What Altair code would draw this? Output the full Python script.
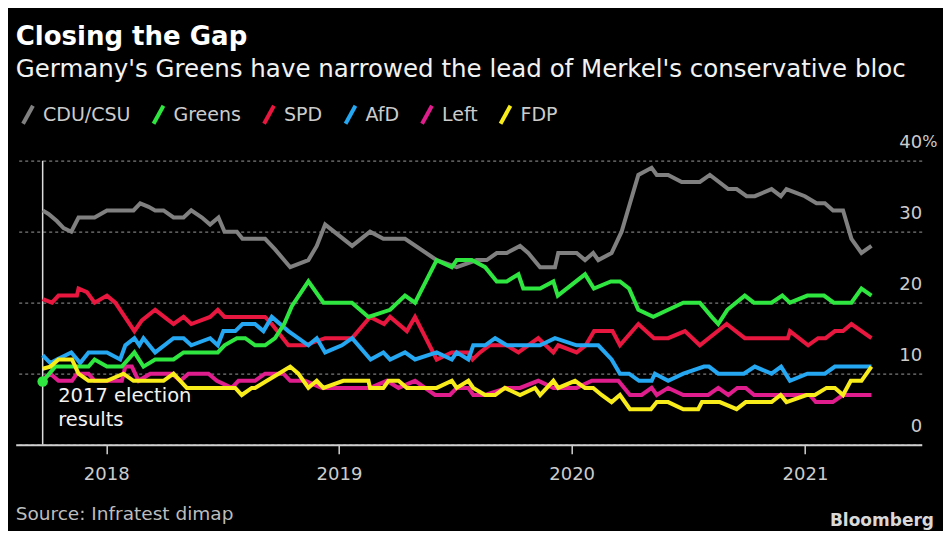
import altair as alt
import pandas as pd

# ---------------- data ----------------
parties = ["CDU/CSU", "Greens", "SPD", "AfD", "Left", "FDP"]
party_colors = ["#808080", "#2fe53f", "#e8173f", "#25a7f1", "#e01d8c", "#f8ec1b"]
draw_order = ["CDU/CSU", "SPD", "Left", "AfD", "Greens", "FDP"]

title_text = "Closing the Gap"
subtitle_text = "Germany's Greens have narrowed the lead of Merkel's conservative bloc"
source_text = "Source: Infratest dimap"
brand_text = "Bloomberg"
note_text = "2017 election\nresults"
note_level = 6
election_t = 2017.727
greens_election = 8.9
y_ticks = [0, 10, 20, 30, 40]

# poll dates as decimal years, shares in %
cdu_t = [2017.727, 2017.752, 2017.788, 2017.817, 2017.850, 2017.881, 2017.950, 2018.003,
         2018.117, 2018.146, 2018.182, 2018.210, 2018.246, 2018.289, 2018.332, 2018.365,
         2018.411, 2018.446, 2018.482, 2018.508, 2018.561, 2018.585, 2018.682, 2018.725,
         2018.790, 2018.868, 2018.904, 2018.940, 2019.056, 2019.133, 2019.190, 2019.283,
         2019.419, 2019.505, 2019.591, 2019.634, 2019.677, 2019.720, 2019.777, 2019.812,
         2019.863, 2019.927, 2019.941, 2020.020, 2020.056, 2020.091, 2020.113, 2020.170,
         2020.213, 2020.249, 2020.285, 2020.342, 2020.364, 2020.413, 2020.471, 2020.549,
         2020.592, 2020.671, 2020.707, 2020.750, 2020.785, 2020.857, 2020.897, 2020.921,
         2020.960, 2021.000, 2021.050, 2021.086, 2021.121, 2021.164, 2021.200, 2021.243,
         2021.286]
cdu_v = [33, 32.5, 31.5, 30.5, 30, 32, 32, 33,
         33, 34, 33.5, 33, 33, 32, 32, 33,
         32, 31, 32, 30, 30, 29, 29, 27.5,
         25, 26, 28, 31, 28, 30, 29, 29,
         26, 25, 26, 26, 27, 27, 28, 27,
         25, 25, 27, 27, 26, 27, 26, 27,
         30, 34, 38, 39, 38, 38, 37, 37,
         38, 36, 36, 35, 35, 36, 35, 36,
         35.5, 35, 34, 34, 33, 33, 29, 27,
         28]

greens_t = [2017.727, 2017.781, 2017.924, 2017.950, 2018.003, 2018.067, 2018.121, 2018.160,
            2018.210, 2018.289, 2018.332, 2018.479, 2018.508, 2018.561, 2018.597, 2018.639,
            2018.682, 2018.725, 2018.764, 2018.797, 2018.868, 2018.933, 2019.055, 2019.126,
            2019.219, 2019.283, 2019.326, 2019.419, 2019.484, 2019.505, 2019.570, 2019.627,
            2019.677, 2019.720, 2019.770, 2019.791, 2019.863, 2019.920, 2019.939, 2020.056,
            2020.094, 2020.167, 2020.206, 2020.245, 2020.285, 2020.349, 2020.413, 2020.478,
            2020.549, 2020.600, 2020.628, 2020.667, 2020.742, 2020.781, 2020.857, 2020.903,
            2020.936, 2021.011, 2021.082, 2021.124, 2021.200, 2021.243, 2021.286]
greens_v = [8.9, 11, 11, 12, 11, 11, 13, 11,
            12, 12, 13, 13, 14, 15, 15, 14,
            14, 15, 17, 19.5, 23, 20, 20, 18,
            19, 21, 20, 26, 25, 26, 26, 25,
            23, 23, 24, 22, 22, 23, 21, 24,
            22, 23, 23, 22, 19, 18, 19, 20,
            20, 18, 17, 19, 21, 20, 20, 21,
            20, 21, 21, 20, 20, 22, 21]

spd_t = [2017.727, 2017.767, 2017.795, 2017.874, 2017.881, 2017.917, 2017.950, 2018.003,
         2018.039, 2018.121, 2018.153, 2018.210, 2018.289, 2018.332, 2018.365, 2018.446,
         2018.479, 2018.508, 2018.682, 2018.711, 2018.782, 2018.854, 2018.940, 2019.055,
         2019.133, 2019.193, 2019.219, 2019.291, 2019.326, 2019.419, 2019.484, 2019.552,
         2019.573, 2019.605, 2019.645, 2019.720, 2019.770, 2019.855, 2019.920, 2019.941,
         2020.020, 2020.059, 2020.095, 2020.174, 2020.206, 2020.285, 2020.352, 2020.413,
         2020.485, 2020.549, 2020.664, 2020.742, 2020.927, 2020.936, 2021.014, 2021.057,
         2021.089, 2021.129, 2021.164, 2021.200, 2021.286]
spd_v = [20.5, 20, 21, 21, 22, 21.5, 20, 21,
         20, 16, 17.5, 19, 17, 18, 17, 18,
         19, 18, 18, 17, 14, 14, 15, 15,
         18, 17, 18, 16, 18, 12, 13, 13,
         12, 13, 14, 14, 13, 15, 13, 14,
         13, 14, 16, 16, 14, 17, 15, 15,
         16, 14, 17, 15, 15, 16, 14, 15,
         15, 16, 16, 17, 15]

afd_t = [2017.727, 2017.760, 2017.788, 2017.850, 2017.888, 2017.924, 2018.003, 2018.060,
         2018.082, 2018.121, 2018.142, 2018.160, 2018.210, 2018.289, 2018.332, 2018.365,
         2018.446, 2018.479, 2018.503, 2018.554, 2018.585, 2018.639, 2018.675, 2018.711,
         2018.782, 2018.868, 2018.904, 2018.940, 2019.012, 2019.056, 2019.135, 2019.190,
         2019.219, 2019.283, 2019.326, 2019.419, 2019.484, 2019.505, 2019.555, 2019.576,
         2019.627, 2019.670, 2019.720, 2019.863, 2019.927, 2020.020, 2020.113, 2020.170,
         2020.206, 2020.245, 2020.288, 2020.342, 2020.356, 2020.413, 2020.478, 2020.567,
         2020.588, 2020.628, 2020.738, 2020.785, 2020.857, 2020.898, 2020.936, 2021.011,
         2021.086, 2021.129, 2021.286]
afd_v = [12.6, 11.5, 12, 13, 11.5, 13, 13, 12,
         14, 15, 14, 15, 13, 15, 15, 14,
         15, 14, 16, 16, 17, 17, 16, 18,
         16, 14, 15, 13, 14, 15, 12, 13,
         12, 13, 12, 13, 12, 13, 12, 14,
         14, 15, 14, 14, 15, 14, 14, 12,
         10, 10, 9, 9, 10, 9, 10, 11,
         11, 10, 10, 11, 10, 11, 9, 10,
         10, 11, 11]

left_t = [2017.727, 2017.760, 2017.795, 2017.853, 2017.874, 2017.924, 2017.950, 2018.067,
          2018.082, 2018.110, 2018.139, 2018.189, 2018.282, 2018.318, 2018.353, 2018.439,
          2018.475, 2018.539, 2018.568, 2018.639, 2018.682, 2018.761, 2018.790, 2018.854,
          2018.926, 2019.133, 2019.205, 2019.255, 2019.326, 2019.412, 2019.476, 2019.505,
          2019.555, 2019.576, 2019.627, 2019.720, 2019.777, 2019.855, 2019.920, 2020.020,
          2020.085, 2020.199, 2020.249, 2020.299, 2020.342, 2020.364, 2020.413, 2020.478,
          2020.585, 2020.628, 2020.671, 2020.710, 2020.746, 2020.782, 2021.021, 2021.047,
          2021.120, 2021.163, 2021.286]
left_v = [9.2, 10, 9, 9, 10, 10, 9, 9,
          11, 11, 9, 10, 10, 9, 10, 10,
          9, 8, 9, 9, 10, 10, 9, 9,
          8, 8, 9, 8, 9, 7, 7, 8,
          8, 7, 7, 8, 8, 9, 8, 8,
          9, 9, 7, 7, 8, 7, 8, 7,
          7, 8, 7, 8, 8, 7, 7, 6,
          6, 7, 7]

fdp_t = [2017.727, 2017.760, 2017.795, 2017.853, 2017.881, 2017.924, 2018.003, 2018.074,
         2018.117, 2018.246, 2018.289, 2018.346, 2018.554, 2018.582, 2018.625, 2018.639,
         2018.690, 2018.740, 2018.790, 2018.825, 2018.868, 2018.904, 2018.933, 2019.018,
         2019.126, 2019.133, 2019.190, 2019.212, 2019.255, 2019.291, 2019.419, 2019.484,
         2019.505, 2019.555, 2019.576, 2019.627, 2019.670, 2019.712, 2019.777, 2019.841,
         2019.863, 2019.920, 2019.941, 2020.013, 2020.056, 2020.091, 2020.127, 2020.170,
         2020.206, 2020.249, 2020.339, 2020.364, 2020.413, 2020.478, 2020.542, 2020.558,
         2020.635, 2020.707, 2020.746, 2020.857, 2020.896, 2020.921, 2021.007, 2021.043,
         2021.093, 2021.129, 2021.164, 2021.197, 2021.243, 2021.286]
fdp_v = [10.7, 11, 12, 12, 10, 9, 9, 10,
         9, 9, 10, 8, 8, 7, 8, 8,
         9, 10, 11, 10, 8, 9, 8, 9,
         9, 8, 8, 9, 9, 8, 8, 9,
         8, 9, 8, 7, 7, 8, 7, 8,
         7, 9, 8, 9, 8, 8, 7, 6,
         7, 5, 5, 6, 6, 5, 5, 6,
         6, 5, 6, 6, 7, 6, 7, 7,
         8, 8, 7, 9, 9, 11]

series = {
    "CDU/CSU": (cdu_t, cdu_v),
    "Greens": (greens_t, greens_v),
    "SPD": (spd_t, spd_v),
    "AfD": (afd_t, afd_v),
    "Left": (left_t, left_v),
    "FDP": (fdp_t, fdp_v),
}


def to_date(t):
    return pd.Timestamp("2018-01-01") + pd.to_timedelta((t - 2018) * 365.25, unit="D")


rows = []
for party, (ts, vs) in series.items():
    assert len(ts) == len(vs), party
    for t, v in zip(ts, vs):
        rows.append({"party": party, "date": to_date(t), "value": v})
df = pd.DataFrame(rows)

election_date = to_date(election_t)
rule_df = pd.DataFrame({"date": [election_date], "value": [y_ticks[0]], "value2": [y_ticks[-1]]})
dot_df = pd.DataFrame({"date": [election_date], "value": [greens_election]})
note_df = pd.DataFrame({"date": [election_date], "value": [note_level], "label": [note_text]})
pct_df = pd.DataFrame({"date": [pd.Timestamp("2021-07-03")], "value": [y_ticks[-1]], "label": ["%"]})

FONT = "DejaVu Sans"
LABEL = "#cccccc"

x_enc = alt.X(
    "date:T",
    scale=alt.Scale(domain=[alt.DateTime(year=2017, month=8, date=12),
                            alt.DateTime(year=2021, month=7, date=3)]),
    axis=alt.Axis(format="%Y", tickCount={"interval": "year", "step": 1}, grid=False,
                  domainColor="#d0d0d0", domainWidth=2, tickColor="#d0d0d0", tickWidth=1.5,
                  tickSize=9, labelPadding=12, labelFontSize=18, labelFont=FONT,
                  labelColor=LABEL, labelFlush=False, title=None, zindex=1),
)
y_enc = alt.Y(
    "value:Q",
    scale=alt.Scale(domain=[0, 40], nice=False),
    axis=alt.Axis(orient="right", values=y_ticks, grid=True, gridDash=[3, 3],
                  gridColor="#7a7a7a", gridWidth=1.3, domain=False, ticks=False, tickSize=0,
                  labelAlign="right", labelPadding=0, labelBaseline="alphabetic",
                  labelOffset=-13.5, labelFontSize=18, labelFont=FONT, labelColor=LABEL,
                  title=None),
)
color_enc = alt.Color(
    "party:N",
    scale=alt.Scale(domain=parties, range=party_colors),
    legend=alt.Legend(orient="none", legendX=1.3, legendY=-57, direction="horizontal",
                      title=None, symbolType="M-0.55,1L0.55,-1", symbolSize=324,
                      symbolStrokeWidth=4, labelFontSize=19, labelFont=FONT,
                      labelColor=LABEL, labelOffset=4, columnPadding=14.5, padding=0,
                      labelLimit=0),
)

rule = alt.Chart(rule_df).mark_rule(color="#dddddd", strokeWidth=1.5).encode(
    x=x_enc, y=y_enc, y2="value2:Q")

lines = [
    alt.Chart(df).transform_filter(alt.datum.party == p)
    .mark_line(strokeWidth=4)
    .encode(x=x_enc, y=y_enc, color=color_enc)
    for p in draw_order
]

dot = alt.Chart(dot_df).mark_circle(size=110, color=party_colors[1], opacity=1).encode(
    x=x_enc, y=y_enc)

note = alt.Chart(note_df).mark_text(
    align="left", baseline="alphabetic", dx=15.5, fontSize=19.5, font=FONT,
    color="#f2f2f2", lineBreak="\n", lineHeight=24).encode(x=x_enc, y=y_enc, text="label:N")

pct = alt.Chart(pct_df).mark_text(
    align="left", baseline="alphabetic", dx=0.5, dy=-13.5, fontSize=16, font=FONT,
    color=LABEL).encode(x=x_enc, y=y_enc, text="label:N")

source = alt.Chart(pd.DataFrame({"t": [source_text]})).mark_text(
    align="left", baseline="alphabetic", fontSize=18.5, font=FONT, color="#bdbdbd"
).encode(x=alt.value(0), y=alt.value(359.3), text="t:N")

brand = alt.Chart(pd.DataFrame({"t": [brand_text]})).mark_text(
    align="right", baseline="alphabetic", fontSize=17, font=FONT, fontWeight="bold",
    color="#d9d9d9"
).encode(x=alt.value(918.3), y=alt.value(365.3), text="t:N")

chart = alt.layer(rule, *lines, dot, note, pct, source, brand).properties(
    width=906,
    height=284,
    background="#000000",
    padding={"left": 7.7, "top": 152.7, "right": 21.3, "bottom": 86.3},
    autosize=alt.AutoSizeParams(type="none"),
    title=alt.TitleParams(
        text=title_text, subtitle=subtitle_text, anchor="start", frame="group",
        offset=22.7, font=FONT, fontSize=26, fontWeight="bold", color="#ffffff",
        subtitleFont=FONT, subtitleFontSize=24.5, subtitleColor="#f2f2f2",
        subtitlePadding=8),
).configure_view(stroke=None)

chart.save("out.html", embed_options={"renderer": "svg", "actions": False})
